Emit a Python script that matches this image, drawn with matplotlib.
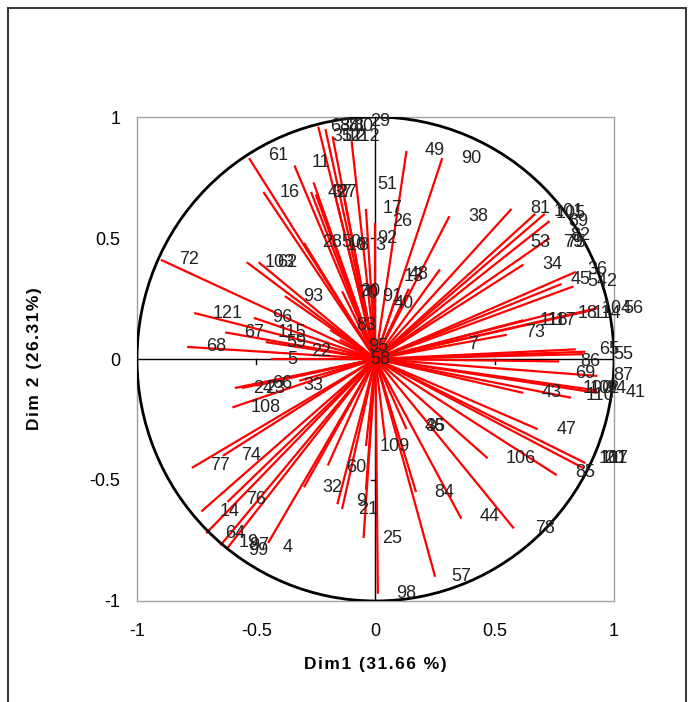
import numpy as np
import matplotlib
matplotlib.use("Agg")
import matplotlib.pyplot as plt
from matplotlib.patches import Circle, Rectangle

plt.rcParams['font.family'] = ['Liberation Sans', 'DejaVu Sans']

# ------------------------
# 变量向量终点 (Dim1, Dim2)
# ------------------------
line_x = [-0.90, -0.53, -0.47, -0.34, -0.24, -0.21, -0.18, -0.10, -0.27, -0.25,
          -0.26, 0.13, 0.28, 0.31, 0.57, 0.67, 0.71, 0.73, 0.73, -0.04,
          0.00, -0.30, -0.14, -0.54, -0.49, -0.38, -0.76, -0.51, -0.63, -0.46,
          -0.79, -0.44, -0.59, -0.56, -0.50, -0.60, -0.77, -0.64, -0.73, -0.62,
          -0.71, -0.65, -0.62, -0.45, -0.30, -0.20, -0.16, -0.14, -0.05, -0.04,
          -0.04, 0.01, 0.25, 0.17, 0.36, 0.58, 0.47, 0.76, 0.88, 0.68,
          0.13, 0.84, 0.78, 0.83, 0.62, 0.93, 0.90, 0.62, 0.55, 0.88,
          0.87, 0.77, 0.93, 0.93, 0.93, 0.82, 0.62, 0.04, -0.07, -0.01,
          0.08, 0.14, 0.27, -0.19, -0.15, -0.17, -0.13, -0.32, 0.87, 0.75,
          0.84]
line_y = [0.41, 0.83, 0.69, 0.80, 0.96, 0.95, 0.92, 0.90, 0.69, 0.68,
          0.73, 0.86, 0.83, 0.59, 0.62, 0.60, 0.60, 0.57, 0.50, 0.62,
          0.56, 0.48, 0.28, 0.40, 0.40, 0.26, 0.19, 0.17, 0.11, 0.07,
          0.05, 0.00, -0.12, -0.12, -0.11, -0.20, -0.45, -0.40, -0.63, -0.59,
          -0.72, -0.77, -0.78, -0.76, -0.53, -0.44, -0.60, -0.62, -0.74, -0.54,
          -0.36, -0.97, -0.90, -0.55, -0.66, -0.70, -0.41, -0.48, -0.43, -0.29,
          -0.29, 0.36, 0.31, 0.30, 0.39, 0.21, 0.20, 0.16, 0.10, 0.03,
          0.02, -0.01, -0.07, -0.13, -0.14, -0.16, -0.14, -0.33, 0.32, 0.31,
          0.24, 0.29, 0.37, 0.12, 0.08, 0.68, 0.66, -0.09, -0.45, 0.19,
          0.04]

# ------------------------
# 变量编号及标签位置
# ------------------------
var_ids = ["29", "63", "88", "71", "80", "31", "52", "12", "112", "61",
           "11", "16", "42", "37", "27", "51", "17", "26", "92", "3",
           "28", "50", "10", "8", "48", "13", "49", "90", "38", "81",
           "101", "105", "89", "82", "79", "75", "53", "34", "36", "45",
           "54", "2", "72", "103", "62", "93", "70", "30", "91", "40",
           "83", "95", "58", "121", "96", "67", "115", "59", "68", "22",
           "5", "66", "24", "23", "33", "108", "74", "77", "76", "14",
           "64", "19", "97", "99", "4", "60", "32", "9", "21", "109",
           "35", "46", "84", "44", "25", "57", "98", "78", "106", "85",
           "47", "43", "20", "107", "111", "7", "73", "118", "117", "18",
           "114", "104", "56", "65", "55", "86", "69", "87", "100", "102",
           "94", "110", "41"]
label_x = [0.02, -0.15, -0.11, -0.08, -0.05, -0.14, -0.10, -0.08, -0.04, -0.41,
           -0.23, -0.36, -0.16, -0.14, -0.12, 0.05, 0.07, 0.11, 0.05, 0.02,
           -0.18, -0.10, -0.08, -0.05, 0.18, 0.16, 0.25, 0.40, 0.43, 0.69,
           0.81, 0.82, 0.85, 0.86, 0.83, 0.84, 0.69, 0.74, 0.93, 0.86,
           0.93, 0.99, -0.78, -0.40, -0.37, -0.26, -0.03, -0.02, 0.07, 0.12,
           -0.04, 0.01, 0.02, -0.62, -0.39, -0.51, -0.35, -0.33, -0.67, -0.23,
           -0.35, -0.39, -0.47, -0.42, -0.26, -0.46, -0.52, -0.65, -0.50, -0.61,
           -0.59, -0.53, -0.49, -0.49, -0.37, -0.08, -0.18, -0.06, -0.03, 0.08,
           0.25, 0.25, 0.29, 0.48, 0.07, 0.36, 0.13, 0.71, 0.61, 0.88,
           0.80, 0.74, 1.00, 1.00, 1.00, 0.41, 0.67, 0.75, 0.78, 0.89,
           0.97, 1.01, 1.08, 0.98, 1.04, 0.90, 0.88, 1.04, 0.93, 0.96,
           1.01, 0.94, 1.09]
label_y = [0.98, 0.96, 0.96, 0.96, 0.96, 0.92, 0.92, 0.92, 0.92, 0.84,
           0.81, 0.69, 0.69, 0.69, 0.69, 0.72, 0.62, 0.57, 0.50, 0.47,
           0.48, 0.48, 0.47, 0.47, 0.35, 0.34, 0.86, 0.83, 0.59, 0.62,
           0.61, 0.60, 0.57, 0.51, 0.48, 0.48, 0.48, 0.39, 0.37, 0.33,
           0.32, 0.32, 0.41, 0.40, 0.40, 0.26, 0.27, 0.28, 0.26, 0.23,
           0.14, 0.05, 0.00, 0.19, 0.17, 0.11, 0.11, 0.07, 0.05, 0.03,
           0.00, -0.10, -0.12, -0.12, -0.11, -0.20, -0.40, -0.44, -0.58, -0.63,
           -0.72, -0.76, -0.77, -0.79, -0.78, -0.45, -0.53, -0.59, -0.62, -0.36,
           -0.28, -0.28, -0.55, -0.65, -0.74, -0.90, -0.97, -0.70, -0.41, -0.47,
           -0.29, -0.14, -0.41, -0.41, -0.41, 0.06, 0.11, 0.16, 0.16, 0.19,
           0.19, 0.21, 0.21, 0.04, 0.02, -0.01, -0.06, -0.07, -0.12, -0.12,
           -0.12, -0.15, -0.14]

ticks = [-1, -0.5, 0, 0.5, 1]
tick_labels = ["-1", "-0.5", "0", "0.5", "1"]

# 轴标题字母间距稍宽
def spaced(s):
    return "\u200a".join(s)

fig = plt.figure(figsize=(6.94, 7.02), dpi=100)
ax = fig.add_axes([0.1974, 0.1439, 0.6873, 0.6894])

# ---------- 外框 ----------
fig.patches.append(Rectangle((8 / 694, -0.02), 678 / 694, 1 - 8 / 702 + 0.02,
                             transform=fig.transFigure, fill=False,
                             edgecolor='#3a3a3a', linewidth=1.5))

# ---------- 向量线 ----------
for x, y in zip(line_x, line_y):
    ax.plot([0, x], [0, y], color='red', linewidth=1.6, solid_capstyle='butt', zorder=2)

# ---------- 相关圆 + 坐标轴 ----------
ax.add_patch(Circle((0, 0), 1, fill=False, edgecolor='black', linewidth=2, zorder=3))
ax.plot([-1, 1], [0, 0], color='black', linewidth=1, zorder=1)
ax.plot([0, 0], [-1, 1], color='black', linewidth=1, zorder=1)
for t in [-0.5, 0.5]:
    ax.plot([t, t], [0, -0.02], color='black', linewidth=1, zorder=1)
    ax.plot([0, -0.02], [t, t], color='black', linewidth=1, zorder=1)

# ---------- 标签 ----------
for name, x, y in zip(var_ids, label_x, label_y):
    ax.text(x, y, name, fontsize=13, color='#222222', ha='center', va='center',
            zorder=4, clip_on=False)

ax.set_xlim(-1, 1)
ax.set_ylim(-1, 1)
ax.set_xticks(ticks)
ax.set_xticklabels(tick_labels)
ax.set_yticks(ticks)
ax.set_yticklabels(tick_labels)
ax.tick_params(length=0, labelsize=13)
ax.tick_params(axis='x', pad=16)
ax.tick_params(axis='y', pad=12)
for s in ax.spines.values():
    s.set_color('#a0a0a0')
    s.set_linewidth(1)

ax.set_xlabel(spaced("Dim1 (31.66 %)"), fontsize=12.5, fontweight='bold', labelpad=12)
ax.set_ylabel(spaced("Dim 2 (26.31%)"), fontsize=12.5, fontweight='bold', labelpad=34)

fig.savefig("out.png", dpi=100)
